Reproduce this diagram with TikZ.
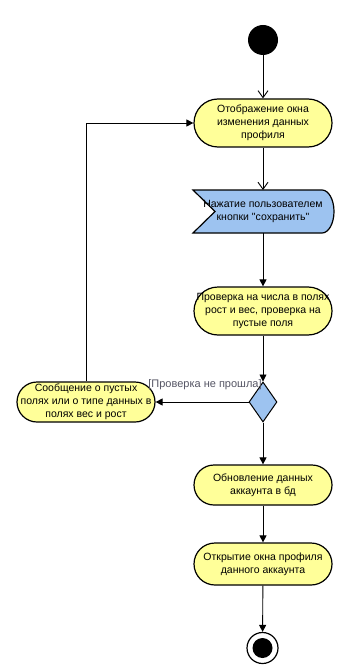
\documentclass[tikz,border=0pt]{standalone}
\usepackage{fontspec}
% plain family: no TeX ligature mapping, so " stays a straight quote
\newfontfamily\plainsans{Liberation Sans}
\usetikzlibrary{shapes.geometric,arrows.meta}

\definecolor{actfill}{RGB}{255,255,153}
\definecolor{sigfill}{RGB}{157,195,240}
\definecolor{guardtext}{RGB}{85,85,100}

\tikzset{
  every node/.style={font=\plainsans\fontsize{10.5}{13}\selectfont},
  action/.style={draw=black, line width=1.2pt, fill=actfill, rectangle,
    rounded corners=#1, minimum width=138pt, minimum height=2*#1,
    inner sep=0pt, align=center},
  flow/.style={draw=black, line width=0.9pt, -{Triangle[length=7pt,width=7pt]}},
  openflow/.style={draw=black, line width=0.9pt, -{Straight Barb[length=7pt,width=10pt]}},
  choice/.style={diamond, draw=black, line width=1pt, fill=sigfill,
    minimum width=28pt, minimum height=40pt, inner sep=0pt},
  guard/.style={text=guardtext, inner sep=0pt, font=\plainsans\fontsize{11}{13}\selectfont}
}

\begin{document}
\begin{tikzpicture}[x=1pt,y=-1pt]
\useasboundingbox (0,0) rectangle (348,671);

% initial node
\node[circle, fill=black, minimum size=30pt, inner sep=0pt] (start) at (263,40) {};

% actions
\node[action=24pt] (show) at (263,123) {Отображение окна\\изменения данных\\профиля};

% signal receipt: concave notch on the left, rounded end on the right
\path[draw=black, line width=1.2pt, fill=sigfill]
  (193,190) -- (322,190) arc[start angle=-90, end angle=90, x radius=12, y radius=21.5]
  -- (193,233) -- (215,211.5) -- cycle;
\node[inner sep=0pt, align=center] (press) at (263,211.5)
  {Нажатие пользователем\\кнопки "сохранить"};
\coordinate (pressTop) at (263,190);
\coordinate (pressBot) at (263,233);

\node[action=24pt] (check) at (263,311) {Проверка на числа в полях\\рост и вес, проверка на\\пустые поля};

\node[choice] (dec) at (263,402) {};

\node[action=20pt] (msg) at (86,402) {Сообщение о пустых\\полях или о типе данных в\\полях вес и рост};

\node[action=20pt] (upd) at (263,485) {Обновление данных\\аккаунта в бд};

\node[action=21pt] (open) at (263,564) {Открытие окна профиля\\данного аккаунта};

% final node
\node[circle, draw=black, line width=1.2pt, fill=white, minimum size=31pt, inner sep=0pt] (end) at (262.5,648) {};
\fill[black] (end.center) circle (10);

% flows
\draw[openflow] (start) -- (show);
\draw[openflow] (show) -- (pressTop);
\draw[flow] (pressBot) -- (check);
\draw[flow] (check) -- (dec);
\draw[flow] (dec) -- (msg);
\node[guard] (guardlbl) at (205,385) {[Проверка не прошла]};
\draw[flow] (msg.north) |- (show.west);
\draw[flow] (dec) -- (upd);
\draw[flow] (upd) -- (open);
\draw[flow] (open) -- (end);
\end{tikzpicture}
\end{document}
